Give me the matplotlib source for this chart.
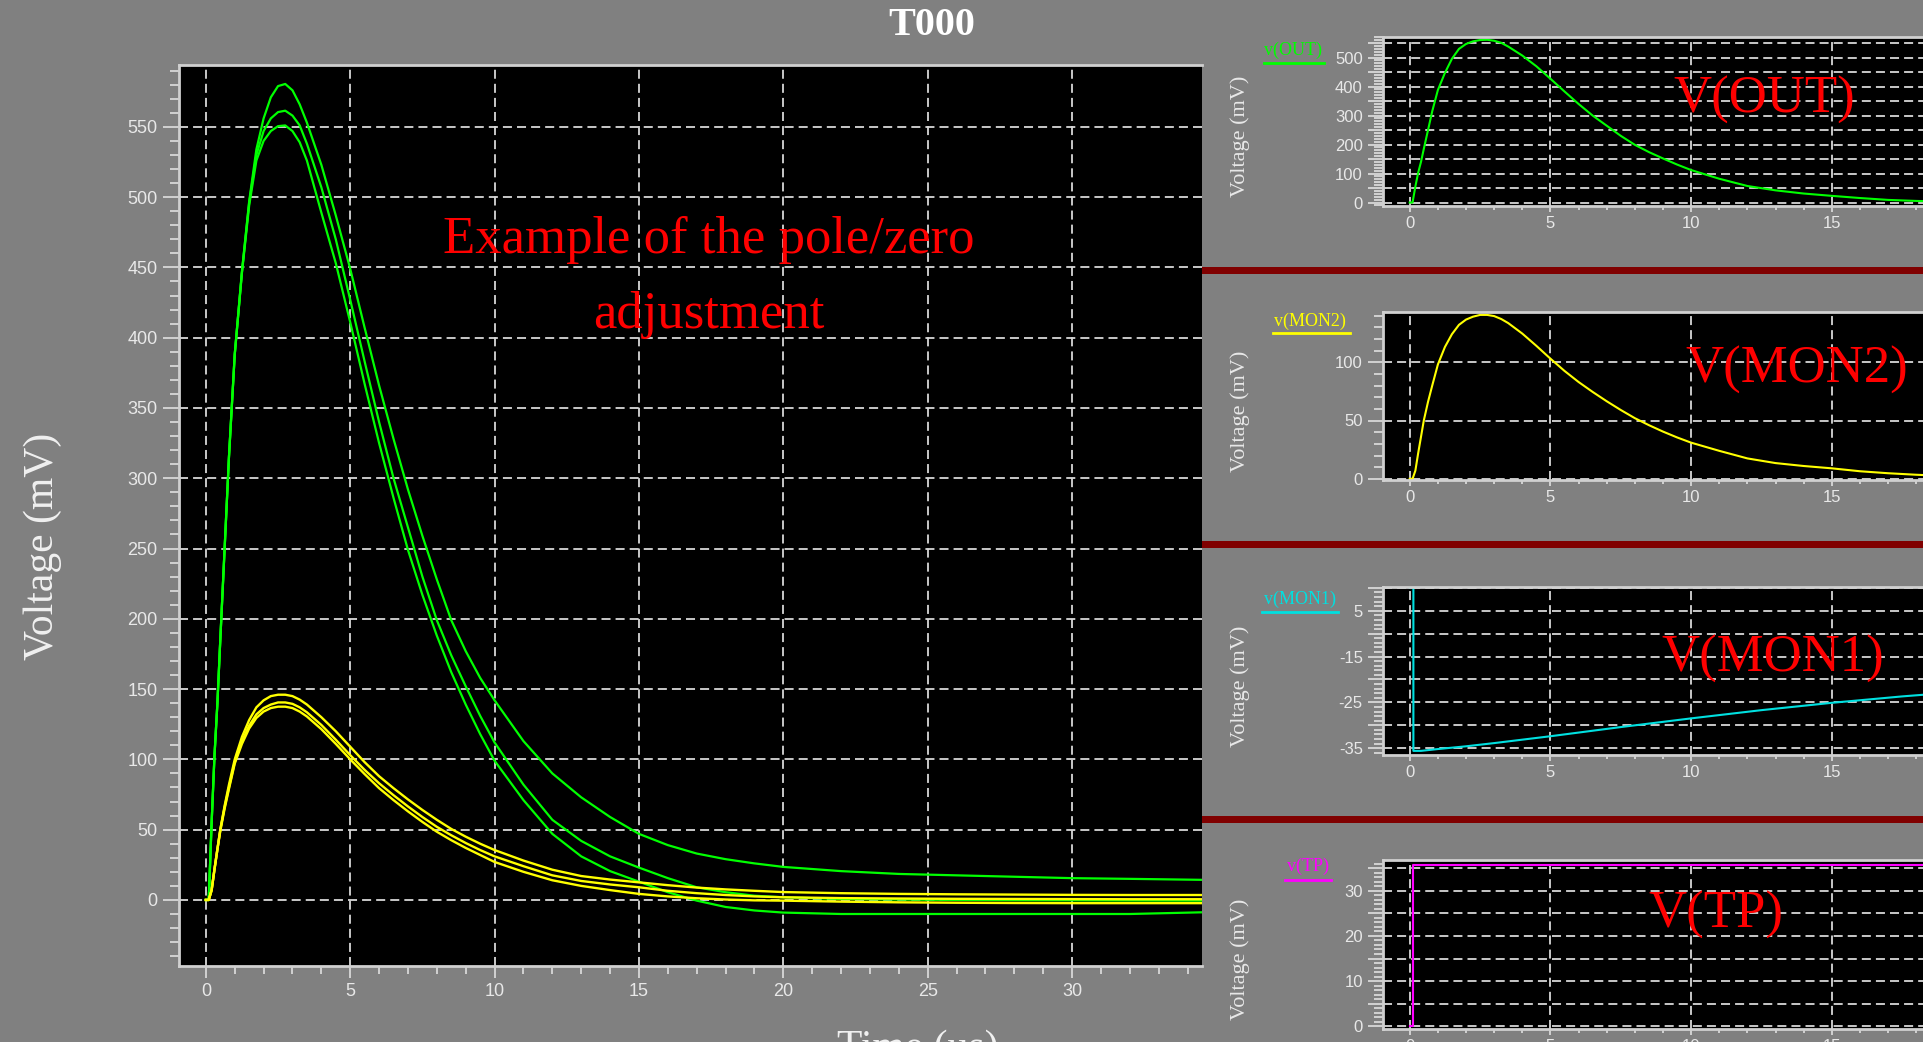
import matplotlib.pyplot as plt
from matplotlib.lines import Line2D
from matplotlib.patches import Rectangle
from matplotlib.ticker import MultipleLocator

# values: time in us, voltage in mV
t_main = [0, 0.1, 0.2, 0.3, 0.4, 0.5, 0.65, 0.8, 1.0, 1.25, 1.5, 1.75, 2.0, 2.25, 2.5, 2.75,
          3.0, 3.25, 3.5, 4.0, 4.5, 5.0, 5.5, 6.0, 6.5, 7.0, 7.5, 8.0, 8.5, 9.0, 9.5, 10,
          11, 12, 13, 14, 15, 16, 17, 18, 19, 20, 22, 24, 26, 28, 30, 32, 34.5]

green_hi = [0, 0, 55, 103, 140, 185, 250, 315, 388, 447, 497, 534, 556, 571, 579, 580.5,
            576, 566, 553, 523, 487, 449, 407, 366, 328, 292, 259, 228, 199, 177, 158, 142,
            113, 90, 73, 59, 47, 39, 33, 29, 26, 23.5, 20.5, 18.5, 17.5, 16.5, 15.5, 15, 14.3]
green_mid = [0, 0, 55, 103, 140, 185, 250, 315, 388, 447, 496, 530, 547, 556, 560.5, 561.5,
             558, 551, 538, 507, 470, 427, 383, 340, 300, 265, 230, 199, 174, 152, 131, 112,
             82, 57, 42, 31, 23, 15.5, 9, 5.5, 3, 1.9, 0.7, 0.3, 0, -0.2, -0.3, -0.4, -0.5]
green_lo = [0, 0, 55, 103, 140, 185, 250, 315, 388, 446, 494, 526, 540, 547, 550.5, 551,
            547, 539, 526, 489, 453, 411, 367, 325, 286, 249, 217, 188, 162, 139, 118, 99,
            71, 47, 31, 20.5, 13, 5.5, -0.5, -5, -7.5, -9, -10, -10, -10, -10, -10, -10, -8.8]

yellow_hi = [0, 0, 7, 22, 36, 50, 67, 82, 100, 116, 128, 137, 142, 145, 146, 146,
             145, 142.5, 139, 130, 120, 109, 98, 88, 79.5, 71.5, 64, 57, 50.5, 45, 40, 35.5,
             28, 21.5, 17, 14.5, 12.5, 10.5, 8.8, 7.5, 6.5, 5.6, 4.8, 4.3, 4.0, 3.8, 3.6, 3.5, 3.5]
yellow_mid = [0, 0, 7, 22, 36, 50, 66, 80, 98, 113, 124, 132, 136.5, 139, 140.5, 140.5,
              139.5, 137, 133.5, 124.5, 114, 103, 92.5, 83, 74.5, 66.5, 59, 52, 46, 40.5, 35.5, 31,
              24, 17.5, 13.5, 11, 9, 6.5, 4.8, 3.5, 2.5, 1.9, 1.3, 1.0, 0.8, 0.7, 0.6, 0.5, 0.5]
yellow_lo = [0, 0, 7, 22, 36, 49, 65, 79, 97, 111, 122, 129.5, 134, 136.5, 137.5, 137.5,
             136.5, 134, 130.5, 121.5, 111, 100, 89.5, 79.5, 71, 63, 55.5, 48.5, 42.5, 37, 32, 27,
             20, 14, 10, 7, 4.3, 2.5, 1.2, 0.3, -0.3, -0.5, -1.2, -1.7, -2.0, -2.2, -2.3, -2.3, -2.3]

t_mon1 = [0, 0.13, 0.13, 0.4, 1, 2, 3, 5, 7.5, 10, 12.5, 15, 17.5, 20]
v_mon1 = [0, 0, -35.6, -35.6, -35.2, -34.6, -33.9, -32.4, -30.4, -28.5, -26.7, -25.1, -23.7, -22.5]

t_tp = [0, 0.13, 0.13, 20]
v_tp = [0, 0, 35.8, 35.8]

main_xticks = [0, 5, 10, 15, 20, 25, 30]
main_yticks = [0, 50, 100, 150, 200, 250, 300, 350, 400, 450, 500, 550]
panel_xticks = [0, 5, 10, 15]
out_yticks = [0, 50, 100, 150, 200, 250, 300, 350, 400, 450, 500, 550]
out_ylabels = ['0', '', '100', '', '200', '', '300', '', '400', '', '500', '']
mon2_yticks = [0, 50, 100]
mon2_ylabels = ['0', '50', '100']
mon1_yticks = [-35, -30, -25, -20, -15, -10, -5, 0]
mon1_ylabels = ['-35', '', '-25', '', '-15', '', '5', '']
tp_yticks = [0, 5, 10, 15, 20, 25, 30, 35]
tp_ylabels = ['0', '', '10', '', '20', '', '30', '']

W, H = 1923, 1042
BG = '#808080'
TXT = '#e8e8e8'
SERIF = ['Liberation Serif', 'DejaVu Serif']
GREEN = '#00ff00'
YELLOW = '#ffff00'
CYAN = '#00e0e0'
MAGENTA = '#ff00ff'
RED = '#ff0000'

plt.rcParams['font.family'] = ['Liberation Sans Narrow', 'Liberation Sans', 'DejaVu Sans']


def box(l, t, r, b):
    # pixel box -> figure fraction
    return [l / W, 1 - b / H, (r - l) / W, (b - t) / H]


def dress(ax, ylen, xlen, ypad, xpad, size):
    ax.set_facecolor('black')
    for side in ('left', 'bottom', 'top'):
        ax.spines[side].set_color('#d0d0d0')
        ax.spines[side].set_linewidth(2)
    ax.spines['right'].set_visible(False)
    ax.tick_params(which='both', direction='out', color='#d8d8d8',
                   labelcolor=TXT, labelsize=size, width=1.3)
    ax.tick_params(axis='y', which='major', length=ylen[0], pad=ypad)
    ax.tick_params(axis='y', which='minor', length=ylen[1])
    ax.tick_params(axis='x', which='major', length=xlen[0], pad=xpad)
    ax.tick_params(axis='x', which='minor', length=xlen[1])
    ax.grid(True, which='major', color='#d8d8d8', linestyle=(0, (5, 2.8)), linewidth=1.3)
    ax.set_axisbelow(True)


fig = plt.figure(figsize=(W / 100, H / 100), dpi=100, facecolor=BG)

# main plot
ax = fig.add_axes(box(179, 65, 1202, 966))
for v in (green_hi, green_mid, green_lo):
    ax.plot(t_main, v, color=GREEN, lw=1.6)
for v in (yellow_hi, yellow_mid, yellow_lo):
    ax.plot(t_main, v, color=YELLOW, lw=1.7)
ax.set_xlim(-0.93, 34.5)
ax.set_ylim(-47, 594)
ax.set_xticks(main_xticks)
ax.set_yticks(main_yticks)
ax.xaxis.set_minor_locator(MultipleLocator(1))
ax.yaxis.set_minor_locator(MultipleLocator(10))
dress(ax, (11.5, 6.5), (8.5, 5.5), 4, 3.5, 13)

fig.text(932 / W, 1 - 35 / H, 'T000', ha='center', va='baseline', fontsize=29,
         weight='bold', family=SERIF, color='white')
fig.text(43 / W, 1 - 546 / H, 'Voltage (mV)', rotation=90, ha='center', va='center',
         fontsize=30, family=SERIF, color='#f0f0f0')
fig.text(918 / W, 1 - 1059 / H, 'Time (us)', ha='center', va='baseline',
         fontsize=30, family=SERIF, color='#f0f0f0')
fig.text(709 / W, 1 - 253 / H, 'Example of the pole/zero', ha='center', va='baseline',
         fontsize=38, family=SERIF, color=RED)
fig.text(709 / W, 1 - 328 / H, 'adjustment', ha='center', va='baseline',
         fontsize=38, family=SERIF, color=RED)

# dark red separators between the right panels
for top in (267, 541, 816):
    fig.add_artist(Rectangle((1202 / W, 1 - (top + 7) / H), (W - 1202) / W, 7 / H,
                             transform=fig.transFigure, color='#800000', lw=0))

# right hand panels
panels = [
    dict(top=37, bottom=206, t=t_main, v=green_mid, color=GREEN, ylim=(-12, 571),
         yticks=out_yticks, ylabels=out_ylabels, minor=10, name='v(OUT)', big='V(OUT)',
         legend=(1293, 50, 1264, 1324, 63), bigpos=(1764, 113)),
    dict(top=312, bottom=480, t=t_main, v=yellow_mid, color=YELLOW, ylim=(-1, 143),
         yticks=mon2_yticks, ylabels=mon2_ylabels, minor=10, name='v(MON2)', big='V(MON2)',
         legend=(1310, 321, 1273, 1350, 333), bigpos=(1797, 383)),
    dict(top=587, bottom=755, t=t_mon1, v=v_mon1, color=CYAN, ylim=(-36.5, 0.2),
         yticks=mon1_yticks, ylabels=mon1_ylabels, minor=1, name='v(MON1)', big='V(MON1)',
         legend=(1300, 599, 1262, 1338, 612), bigpos=(1773, 672)),
    dict(top=860, bottom=1029, t=t_tp, v=v_tp, color=MAGENTA, ylim=(-0.6, 36.8),
         yticks=tp_yticks, ylabels=tp_ylabels, minor=1, name='v(TP)', big='V(TP)',
         legend=(1308, 866, 1285, 1331, 880), bigpos=(1716, 928)),
]

for p in panels:
    pa = fig.add_axes(box(1383, p['top'], W, p['bottom']))
    pa.plot(p['t'], p['v'], color=p['color'], lw=1.5)
    pa.set_xlim(-0.95, 18.24)
    pa.set_ylim(*p['ylim'])
    pa.set_xticks(panel_xticks)
    pa.set_yticks(p['yticks'])
    pa.set_yticklabels(p['ylabels'])
    pa.xaxis.set_minor_locator(MultipleLocator(1))
    pa.yaxis.set_minor_locator(MultipleLocator(p['minor']))
    dress(pa, (10.5, 6.5), (4, 3), 4, 3, 12)

    mid = (p['top'] + p['bottom']) / 2 + 15
    fig.text(1240 / W, 1 - mid / H, 'Voltage (mV)', rotation=90, ha='center', va='center',
             fontsize=16, family=SERIF, color=TXT)
    lx, ly, u0, u1, uy = p['legend']
    fig.text(lx / W, 1 - ly / H, p['name'], ha='center', va='center', fontsize=13,
             family=SERIF, color=p['color'])
    fig.add_artist(Line2D([u0 / W, u1 / W], [1 - uy / H, 1 - uy / H],
                          transform=fig.transFigure, color=p['color'], lw=2))
    bx, by = p['bigpos']
    fig.text(bx / W, 1 - by / H, p['big'], ha='center', va='baseline', fontsize=38,
             family=SERIF, color=RED)

fig.savefig('out.png', dpi=100, facecolor=BG)
